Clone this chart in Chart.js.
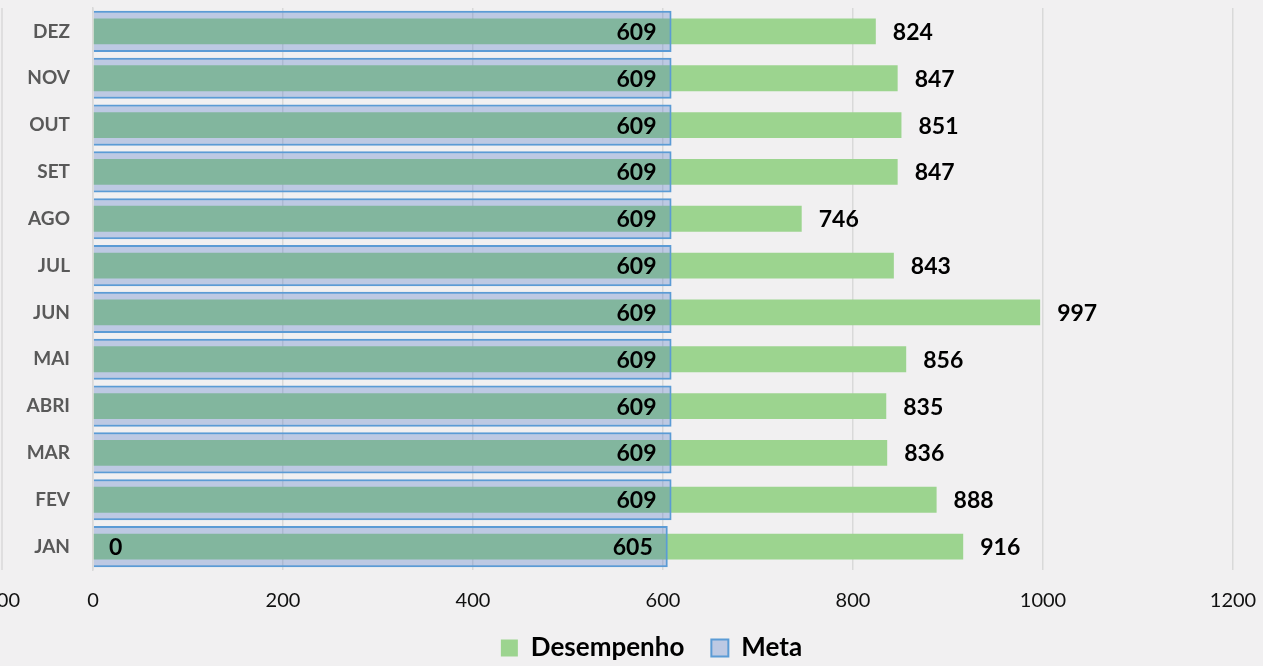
<!DOCTYPE html>
<html>
<head>
<meta charset="utf-8">
<script src="https://cdn.jsdelivr.net/npm/chart.js@4/dist/chart.umd.min.js"></script>
<style>
  html, body { margin: 0; padding: 0; background: #F1F0F1; }
  #wrap { width: 1263px; height: 666px; position: relative; }
  canvas { display: block; }
</style>
</head>
<body>
<div id="wrap"><canvas id="c" width="1263" height="666"></canvas></div>
<script>
// ---- data ----
const categories = ['JAN', 'FEV', 'MAR', 'ABRI', 'MAI', 'JUN', 'JUL', 'AGO', 'SET', 'OUT', 'NOV', 'DEZ'];
const desempenho = [916, 888, 836, 835, 856, 997, 843, 746, 847, 851, 847, 824];
const meta = [605, 609, 609, 609, 609, 609, 609, 609, 609, 609, 609, 609];
const baseValues = [0, null, null, null, null, null, null, null, null, null, null, null];
const xMin = 0, xMax = 1200, xStep = 200;
const strayTickLabel = '1200';

const FONT = 'Lato, "Open Sans", sans-serif';
const TRANSPARENT = 'rgba(0,0,0,0)';

const bgPlugin = {
  id: 'bg',
  beforeDraw(chart) {
    const ctx = chart.ctx;
    ctx.save();
    ctx.fillStyle = '#F1F0F1';
    ctx.fillRect(0, 0, chart.width, chart.height);
    ctx.restore();
  },
  afterLayout(chart) {
    // fine placement of the legend block
    const lg = chart.legend;
    if (!lg) return;
    const dx = 35;
    lg.left += dx; lg.right += dx;
    lg.top = 608;
    lg.bottom = chart.height;
    lg.height = lg.bottom - lg.top;
  },
  beforeDatasetsDraw(chart) {
    // stray gridline + clipped tick label at far left
    const ctx = chart.ctx, a = chart.chartArea;
    ctx.save();
    ctx.strokeStyle = '#D9D9D9';
    ctx.lineWidth = 1.5;
    ctx.beginPath();
    ctx.moveTo(2, a.top);
    ctx.lineTo(2, a.bottom);
    ctx.stroke();
    ctx.fillStyle = '#111';
    ctx.font = '20px ' + FONT;
    ctx.textAlign = 'right';
    ctx.textBaseline = 'middle';
    ctx.fillText(strayTickLabel, 20, a.bottom + 31);
    ctx.restore();
  }
};

const labelPlugin = {
  id: 'lbl',
  afterDatasetsDraw(chart) {
    const ctx = chart.ctx;
    ctx.save();
    ctx.font = 'bold 23px ' + FONT;
    ctx.fillStyle = '#000';
    ctx.textBaseline = 'middle';
    chart.data.datasets.forEach((ds, i) => {
      const m = chart.getDatasetMeta(i);
      if (m.hidden) return;
      m.data.forEach((el, j) => {
        const v = ds.data[j];
        if (v === null || v === undefined) return;
        if (ds.labelPos === 'outside') {
          ctx.textAlign = 'left';
          ctx.fillText(String(v), el.x + 17, el.y + 1);
        } else if (ds.labelPos === 'insideEnd') {
          ctx.textAlign = 'right';
          ctx.fillText(String(v), el.x - 15, el.y + 1);
        } else if (ds.labelPos === 'insideBase') {
          ctx.textAlign = 'left';
          ctx.fillText(String(v), el.base + 16, el.y + 1);
        }
      });
    });
    ctx.restore();
  }
};

new Chart(document.getElementById('c'), {
  type: 'bar',
  data: {
    labels: categories,
    datasets: [
      {
        label: 'Desempenho',
        data: desempenho,
        backgroundColor: '#9CD48F',
        borderWidth: 0,
        grouped: false,
        order: 2,
        categoryPercentage: 1,
        barPercentage: 0.55,
        labelPos: 'outside'
      },
      {
        label: 'Meta',
        data: meta,
        backgroundColor: 'rgba(68,114,196,0.3)',
        borderColor: '#5B9BD5',
        borderWidth: 2,
        grouped: false,
        order: 1,
        categoryPercentage: 1,
        barPercentage: 0.88,
        labelPos: 'insideEnd'
      },
      {
        label: 'Base',
        data: baseValues,
        backgroundColor: TRANSPARENT,
        borderWidth: 0,
        grouped: false,
        order: 0,
        categoryPercentage: 1,
        barPercentage: 0.55,
        labelPos: 'insideBase'
      }
    ]
  },
  options: {
    indexAxis: 'y',
    responsive: false,
    animation: false,
    devicePixelRatio: 1,
    layout: { padding: { top: 8, right: 30, bottom: 0, left: 0 } },
    scales: {
      x: {
        min: xMin, max: xMax,
        ticks: {
          stepSize: xStep, color: '#111', padding: 0,
          font: { family: FONT, size: 20 },
          callback: (v) => String(v)
        },
        grid: { color: '#D9D9D9', lineWidth: 1.5, drawTicks: true, tickLength: 19, tickColor: TRANSPARENT },
        border: { display: false },
        afterFit(s) { s.height = 52; }
      },
      y: {
        reverse: true,
        ticks: { color: '#595959', padding: 0, font: { family: FONT, size: 19, weight: 'bold', lineHeight: 0.8 } },
        grid: { display: true, color: TRANSPARENT, drawTicks: true, tickLength: 23, tickColor: TRANSPARENT },
        border: { display: true, color: '#D9D9D9', width: 1.5 },
        afterFit(s) { s.width = 93; }
      }
    },
    plugins: {
      tooltip: { enabled: false },
      legend: {
        position: 'bottom',
        maxHeight: 44,
        labels: {
          filter: (item) => item.text !== 'Base',
          sort: (a, b) => a.datasetIndex - b.datasetIndex,
          color: '#000',
          font: { family: FONT, size: 26, weight: 'bold' },
          boxWidth: 17,
          boxHeight: 17,
          padding: 27
        }
      }
    }
  },
  plugins: [bgPlugin, labelPlugin]
});
</script>
</body>
</html>
